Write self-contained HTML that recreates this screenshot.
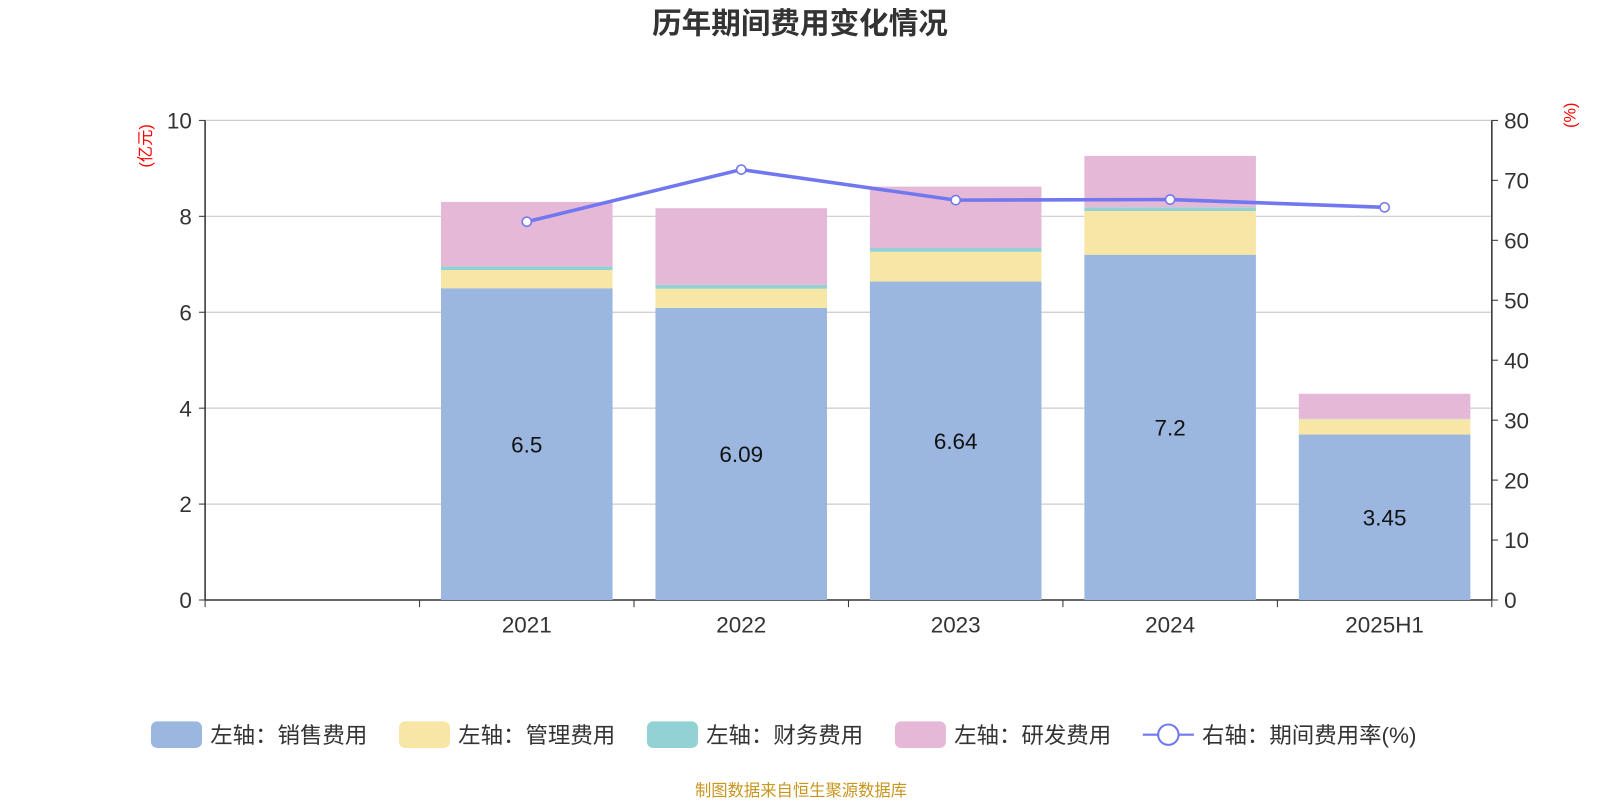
<!DOCTYPE html>
<html><head><meta charset="utf-8"><style>
body{margin:0;background:#fff;font-family:"Liberation Sans","Noto Sans CJK SC",sans-serif;}
svg text{font-family:"Liberation Sans","Noto Sans CJK SC",sans-serif;}
</style></head><body>
<svg id="chart" width="1600" height="800" xmlns="http://www.w3.org/2000/svg">
<g transform="scale(1.0204)">
<text x="784" y="33" text-anchor="middle" font-size="29" font-weight="bold" fill="#333">历年期间费用变化情况</text>
<text transform="translate(148,143) rotate(-90)" text-anchor="middle" font-size="16" fill="#f00">(亿元)</text>
<text transform="translate(1544,113) rotate(-90)" text-anchor="middle" font-size="16" fill="#f00">(%)</text>
<g id="grid"></g><g id="bars"></g><g id="line"></g><g id="axes"></g>
<g id="legend" transform="translate(0,720)"></g>
<text x="785" y="780" text-anchor="middle" font-size="16" fill="#c8961e">制图数据来自恒生聚源数据库</text>
</g>
</svg>
<script>
const categories=["","2021","2022","2023","2024","2025H1"];
const sales=[null,6.5,6.09,6.64,7.2,3.45];
const mgmt=[null,0.38,0.40,0.62,0.91,0.32];
const fin=[null,0.08,0.08,0.08,0.08,0.01];
const rd=[null,1.34,1.60,1.28,1.07,0.52];
const rate=[null,63.1,71.8,66.7,66.8,65.5];
const leftTicks=[0,2,4,6,8,10];
const rightTicks=[0,10,20,30,40,50,60,70,80];
const X0=201,X1=1462,Y0=588,Y1=118;
const band=(X1-X0)/categories.length;
const xc=i=>X0+band*(i+0.5);
const yL=v=>Y0-(v/10)*(Y0-Y1);
const yR=v=>Y0-(v/80)*(Y0-Y1);
const NS="http://www.w3.org/2000/svg";
function mk(tag,attrs,parent,txt){const e=document.createElementNS(NS,tag);for(const k in attrs)e.setAttribute(k,attrs[k]);if(txt!=null)e.textContent=txt;document.getElementById(parent).appendChild(e);return e;}
leftTicks.forEach(t=>{
 const g=mk('line',{x1:X0,x2:X1,y1:yL(t),y2:yL(t),stroke:t===0?'#333':'#ccc','stroke-width':t===0?1.5:1.2},'grid');
 
 
 const l=mk('text',{x:X0-13,y:yL(t)+8,'text-anchor':'end','font-size':22,fill:'#333'},'axes',t);
 
 
 mk('line',{x1:X0-6,x2:X0,y1:yL(t),y2:yL(t),stroke:'#333'},'axes');
});
rightTicks.forEach(t=>{
 const l=mk('text',{x:X1+12,y:yR(t)+8,'font-size':22,fill:'#333'},'axes',t);
 
 
 mk('line',{x1:X1,x2:X1+6,y1:yR(t),y2:yR(t),stroke:'#333'},'axes');
});
mk('line',{x1:X0,x2:X0,y1:Y1,y2:Y0,stroke:'#333','stroke-width':1.5},'axes');
mk('line',{x1:X1,x2:X1,y1:Y1,y2:Y0,stroke:'#333','stroke-width':1.5},'axes');
for(let i=0;i<=categories.length;i++)mk('line',{x1:X0+band*i,x2:X0+band*i,y1:Y0,y2:Y0+7,stroke:'#333'},'axes');
categories.forEach((c,i)=>{const l=mk('text',{x:xc(i),y:Y0+32,'text-anchor':'middle','font-size':22,fill:'#333'},'axes',c);
 
 });
const series=[[sales,'#9bb7e0','sales'],[mgmt,'#f7e6a6','mgmt'],[fin,'#92d2d4','finance'],[rd,'#e6b8d8','rd']];
const bw=band*0.8;
categories.forEach((c,i)=>{
 if(sales[i]==null)return;
 let base=0;
 series.forEach(([arr,col,nm])=>{
  const v=arr[i];const r=mk('rect',{x:xc(i)-bw/2,y:yL(base+v),width:bw,height:yL(base)-yL(base+v),fill:col},'bars');
  
  
  base+=v;
 });
 const t=mk('text',{x:xc(i),y:(yL(0)+yL(sales[i]))/2+8,'text-anchor':'middle','font-size':22,fill:'#111'},'bars',sales[i]);
 
 
});
const pts=[];rate.forEach((v,i)=>{if(v!=null)pts.push([xc(i),yR(v)]);});
const pl=mk('polyline',{points:pts.map(p=>p.join(',')).join(' '),fill:'none',stroke:'#7177ee','stroke-width':3.5},'line');


pts.forEach(p=>{const c=mk('circle',{cx:p[0],cy:p[1],r:4.5,fill:'#fff',stroke:'#7177ee','stroke-width':1.5},'line');
 
 });
const legendItems=[['左轴：销售费用','#9bb7e0',148],['左轴：管理费用','#f7e6a6',391],['左轴：财务费用','#92d2d4',634],['左轴：研发费用','#e6b8d8',877]];
legendItems.forEach(([t,col,x])=>{
 const r=mk('rect',{x:x,y:-13,width:50,height:26,rx:6,fill:col},'legend');
 
 
 const l=mk('text',{x:x+58,y:8,'font-size':22,fill:'#333'},'legend',t);
 
 
});
mk('line',{x1:1120,x2:1170,y1:0,y2:0,stroke:'#7177ee','stroke-width':2},'legend');
mk('circle',{cx:1145,cy:0,r:10,fill:'#fff',stroke:'#7177ee','stroke-width':2},'legend');
const ll=mk('text',{x:1178,y:8,'font-size':22,fill:'#333'},'legend','右轴：期间费用率(%)');


</script>
</body></html>
